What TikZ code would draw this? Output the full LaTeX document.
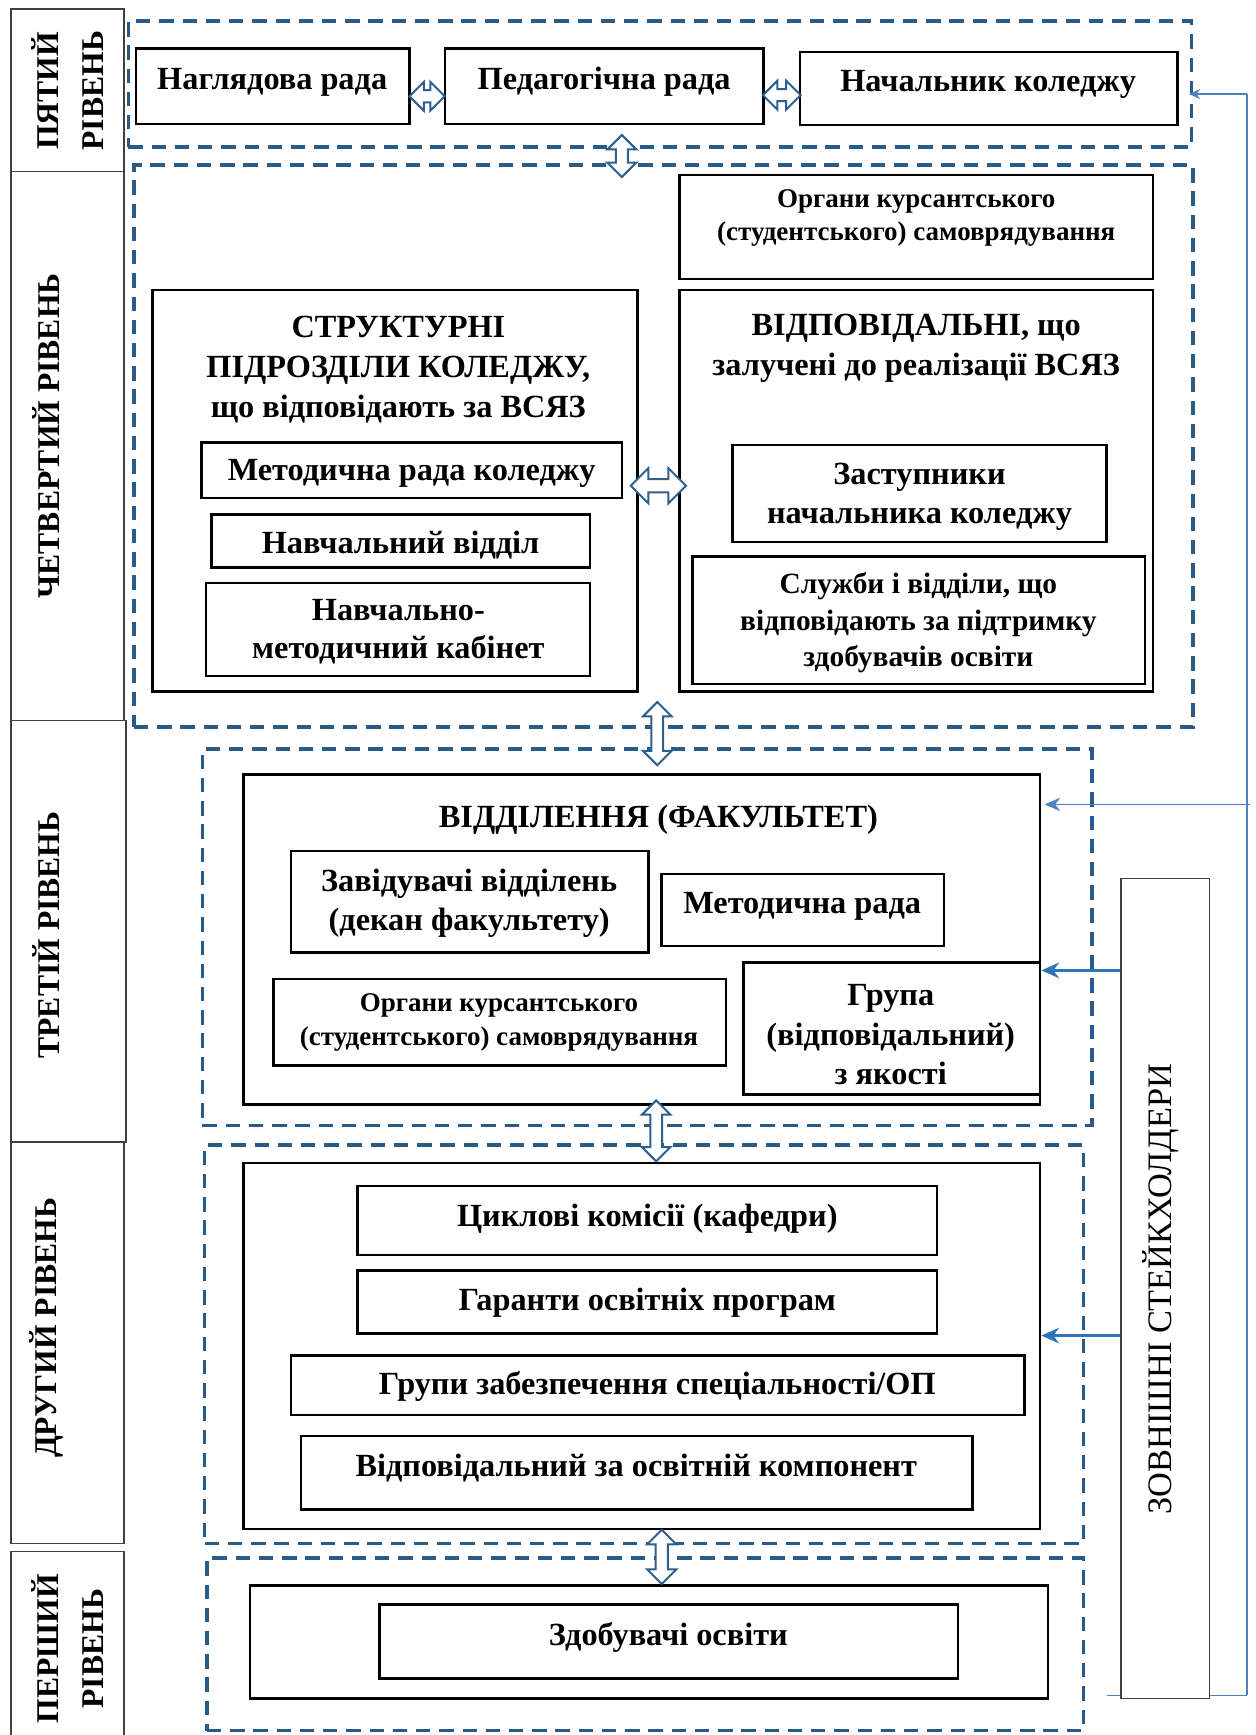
\documentclass[tikz,border=0pt]{standalone}
\usepackage{fontspec}
\setmainfont{Liberation Serif}
\usetikzlibrary{fit,shapes.arrows,arrows.meta,calc}
\definecolor{dashc}{HTML}{285A8A}
\definecolor{arrc}{HTML}{2E5F8E}
\definecolor{thinc}{HTML}{4F81BD}
\definecolor{thkc}{HTML}{2E75B6}
\tikzset{
  box/.style={draw=black, line width=1.1pt, rectangle, inner sep=0pt},
  lvl/.style={draw=dashc, line width=1.6pt, dash pattern=on 6.5pt off 4pt, rectangle, inner sep=0pt},
  labbox/.style={draw=black!75, line width=0.6pt, rectangle, inner sep=0pt},
  tx/.style={font=\fontsize{14.6}{18}\selectfont\bfseries, align=center, inner sep=0pt},
  txs/.style={font=\fontsize{12.2}{15}\selectfont\bfseries, align=center, inner sep=0pt},
  txm/.style={font=\fontsize{13.3}{16.5}\selectfont\bfseries, align=center, inner sep=0pt},
  vlab/.style={font=\fontsize{14.3}{20}\selectfont\bfseries, align=center, inner sep=0pt, rotate=90},
  darr/.style={double arrow, draw=arrc, fill=white, line width=0.9pt, inner sep=2.3pt,
    double arrow head extend=3.8pt, double arrow head indent=0pt, anchor=center},
  thinl/.style={draw=thinc, line width=0.6pt},
  thk/.style={draw=thkc, line width=1.3pt},
}
\begin{document}
\begin{tikzpicture}[x=0.5pt,y=-0.5pt]
\clip (0,0) rectangle (1135,1568);
\fill[white] (0,0) rectangle (1135,1568);

% ---- left level labels
\node[labbox, fit={(10,8)(112,155)}] (lab5) {};
\node[vlab] (lab5t) at (61,82) {ПЯТИЙ\\РІВЕНЬ};
\node[labbox, fit={(10,155)(112,651)}] (lab4) {};
\node[vlab] (lab4t) at (42,394) {ЧЕТВЕРТИЙ РІВЕНЬ};
\node[labbox, fit={(10,651)(114,1032)}] (lab3) {};
\node[vlab] (lab3t) at (42,845) {ТРЕТІЙ РІВЕНЬ};
\node[labbox, fit={(10,1032)(112,1395)}] (lab2) {};
\node[vlab] (lab2t) at (42,1200) {ДРУГИЙ РІВЕНЬ};
\node[labbox, fit={(10,1402)(112,1580)}] (lab1) {};
\node[vlab] (lab1t) at (61,1490) {ПЕРШИЙ\\РІВЕНЬ};

% ---- coordinates for feedback lines
\coordinate (top) at (1127,85);
\coordinate (bot) at (1127,1532);
\coordinate (bl) at (1000,1532);
\coordinate (m3) at (1130,727);
\coordinate (y877) at (0,877);
\coordinate (y1207) at (0,1207);

% ---- level 5
\node[lvl, fit={(116,19)(1077,133)}] (L5) {};
\node[box, fit={(123,44)(370,112)}] (nag) {};
\node[tx] (nagt) at (246,74) {Наглядова рада};
\node[box, fit={(402,44)(690,112)}] (ped) {};
\node[tx] (pedt) at (546,74) {Педагогічна рада};
\node[box, fit={(723,47)(1064,113)}] (nach) {};
\node[tx] (nacht) at (893,76) {Начальник коледжу};

% ---- level 4
\node[lvl, fit={(121,149)(1078,657)}] (L4) {};
\node[box, fit={(614,158)(1042,252)}] (org4) {};
\node[txs] (org4t) at (828,197) {Органи курсантського\\(студентського) самоврядування};
\node[box, fit={(138,262)(576,625)}] (sp) {};
\node[tx] (spt) at (360,334) {СТРУКТУРНІ\\ПІДРОЗДІЛИ КОЛЕДЖУ,\\що відповідають за ВСЯЗ};
\node[box, fit={(182,400)(562,450)}] (met) {};
\node[tx] (mett) at (372,428) {Методична рада коледжу};
\node[box, fit={(191,465)(533,513)}] (nv) {};
\node[tx] (nvt) at (362,493) {Навчальний відділ};
\node[box, fit={(186,527)(533,611)}] (nmk) {};
\node[tx,font=\fontsize{14.6}{17.5}\selectfont\bfseries] (nmkt) at (360,571) {Навчально-\\методичний кабінет};
\node[box, fit={(614,262)(1042,625)}] (vid) {};
\node[tx] (vidt) at (828,315) {ВІДПОВІДАЛЬНІ, що\\залучені до реалізації ВСЯЗ};
\node[box, fit={(662,402)(1000,490)}] (zast) {};
\node[tx,font=\fontsize{14.6}{17.5}\selectfont\bfseries] (zastt) at (831,449) {Заступники\\начальника коледжу};
\node[box, fit={(626,503)(1035,618)}] (sluz) {};
\node[txm] (sluzt) at (830,563) {Служби і відділи, що\\відповідають за підтримку\\здобувачів освіти};

% ---- level 3
\node[lvl, fit={(183,677)(987,1017)}] (L3) {};
\node[box, fit={(220,700)(940,998)}] (fac) {};
\node[tx] (fact) at (595,741) {ВІДДІЛЕННЯ (ФАКУЛЬТЕТ)};
\node[box, fit={(263,769)(586,861)}] (zav) {};
\node[tx,font=\fontsize{14.6}{17.5}\selectfont\bfseries] (zavt) at (424,816) {Завідувачі відділень\\(декан факультету)};
\node[box, fit={(598,790)(853,855)}] (mr) {};
\node[tx] (mrt) at (725,819) {Методична рада};
\node[box, fit={(247,885)(656,963)}] (org3) {};
\node[txs] (org3t) at (451,924) {Органи курсантського\\(студентського) самоврядування};
\node[box, fit={(672,870)(940,989)}] (grp) {};
\node[tx] (grpt) at (805,935) {Група\\(відповідальний)\\з якості};

% ---- level 2
\node[lvl, fit={(185,1035)(979,1395)}] (L2) {};
\node[box, fit={(220,1051)(940,1382)}] (kaf) {};
\node[box, fit={(323,1072)(847,1134)}] (cyk) {};
\node[tx] (cykt) at (585,1101) {Циклові комісії (кафедри)};
\node[box, fit={(323,1148)(847,1205)}] (gar) {};
\node[tx] (gart) at (585,1177) {Гаранти освітніх програм};
\node[box, fit={(263,1225)(926,1279)}] (grz) {};
\node[tx] (grzt) at (594,1253) {Групи забезпечення спеціальності/ОП};
\node[box, fit={(272,1298)(879,1364)}] (vidp) {};
\node[tx] (vidpt) at (575,1327) {Відповідальний за освітній компонент};

% ---- level 1
\node[lvl, fit={(187,1408)(979,1564)}] (L1) {};
\node[box, fit={(226,1433)(947,1535)}] (stud) {};
\node[box, fit={(343,1450)(866,1517)}] (zdob) {};
\node[tx] (zdobt) at (604,1480) {Здобувачі освіти};

% ---- thin blue lines
\draw[thinl] (bot) -- (top);
\draw[thinl, -{Stealth[length=5pt,width=4.5pt]}] (top) -- ([xshift=-2pt]L5.east |- top);
\draw[thinl, -{Stealth[length=7pt,width=6pt]}] (m3) -- ([xshift=1.5pt]fac.east |- m3);
\draw[thinl] (bl) -- (bot);

% ---- external stakeholders
\node[labbox, fill=white, fit={(1013,794)(1093,1535)}] (ext) {};
\node[font=\fontsize{15.5}{18}\selectfont, rotate=90, inner sep=0pt] (extt) at (1049,1165) {ЗОВНІШНІ СТЕЙКХОЛДЕРИ};

\draw[thk, -{Stealth[length=8pt,width=7pt]}] (ext.west |- y877) -- (grp.east |- y877);
\draw[thk, -{Stealth[length=8pt,width=7pt]}] (ext.west |- y1207) -- (kaf.east |- y1207);

% ---- hollow double arrows
\node[darr, minimum height=16pt] (a1) at ($(nag.east)!0.5!(ped.west)+(0,9)$) {};
\node[darr, minimum height=17pt] (a2) at ($(ped.east)!0.5!(nach.west)+(0,7)$) {};
\node[darr, minimum height=19pt, rotate=90] (a3) at (562,141) {};
\node[darr, minimum height=25pt, inner sep=2.5pt, double arrow head extend=5pt] (a4) at ($(sp.east)!0.5!(vid.west)+(0,-4.5)$) {};
\node[darr, minimum height=28.5pt, rotate=90, inner sep=2.2pt] (a5) at (594,663) {};
\node[darr, minimum height=27.5pt, rotate=90, inner sep=2.2pt] (a6) at (593,1022) {};
\node[darr, minimum height=24.5pt, rotate=90] (a7) at (598,1407) {};
\end{tikzpicture}
\end{document}
